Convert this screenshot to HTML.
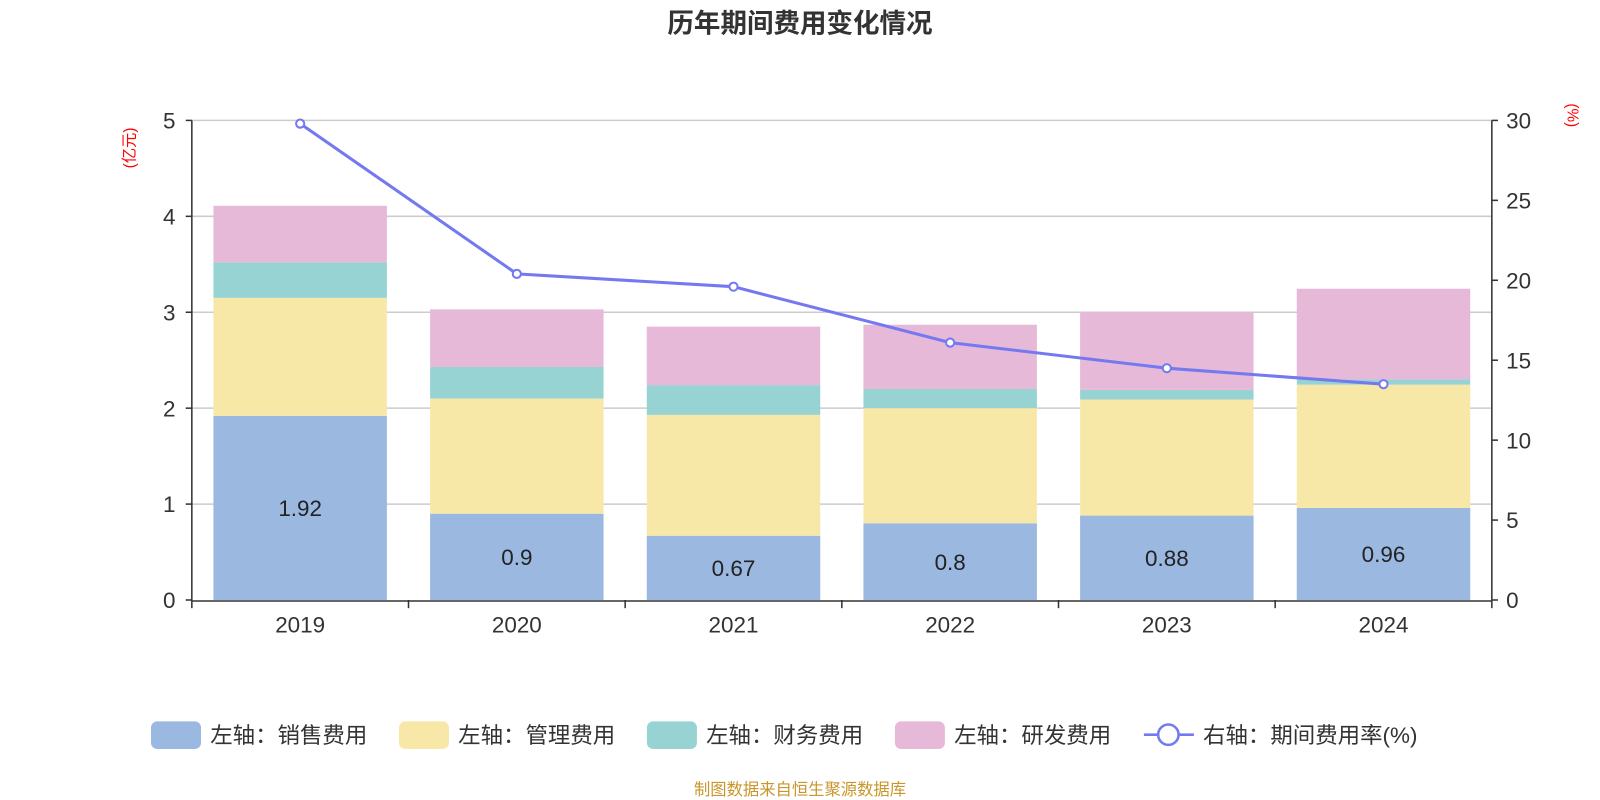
<!DOCTYPE html>
<html><head><meta charset="utf-8"><style>
html,body{margin:0;padding:0;background:#fff;}
svg{display:block;font-family:"Liberation Sans","Noto Sans CJK SC",sans-serif;}
</style></head><body>
<svg id="chart" width="1600" height="800" viewBox="0 0 1568 784" preserveAspectRatio="none" xmlns="http://www.w3.org/2000/svg">
<text x="784" y="32" text-anchor="middle" font-size="26" font-weight="bold" fill="#333">历年期间费用变化情况</text>
<text transform="translate(132,145) rotate(-90)" text-anchor="middle" font-size="15" fill="red">(亿元)</text>
<text transform="translate(1536,113) rotate(90)" text-anchor="middle" font-size="15" fill="red">(%)</text>
<g id="grid"></g><g id="bars"></g><g id="axes"></g><g id="line"></g>
<g id="legend"></g>
<text x="784" y="779" text-anchor="middle" font-size="16" fill="#c8962a">制图数据来自恒生聚源数据库</text>
</svg>
<script>
const categories=["2019","2020","2021","2022","2023","2024"];
const sales=[1.92,0.9,0.67,0.8,0.88,0.96];
const admin=[1.23,1.2,1.26,1.2,1.21,1.285];
const finance=[0.37,0.33,0.31,0.2,0.1,0.055];
const rnd=[0.59,0.6,0.61,0.67,0.81,0.945];
const rate=[29.8,20.4,19.6,16.1,14.5,13.5];
const leftTicks=[0,1,2,3,4,5];
const rightTicks=[0,5,10,15,20,25,30];
const NS="http://www.w3.org/2000/svg";
const X0=188,X1=1462,Y0=588,Y1=118;
const band=(X1-X0)/categories.length;
const yL=v=>Y0-(v/5)*(Y0-Y1);
const yR=v=>Y0-(v/30)*(Y0-Y1);
const xC=i=>X0+band*(i+0.5);
function mk(tag,attrs,parent,text){const e=document.createElementNS(NS,tag);for(const k in attrs)e.setAttribute(k,attrs[k]);if(text!==undefined)e.textContent=text;document.getElementById(parent)?document.getElementById(parent).appendChild(e):parent.appendChild(e);return e;}
leftTicks.forEach((t,i)=>{
  if(t>0){const g=mk('line',{x1:X0,x2:X1,y1:yL(t),y2:yL(t),stroke:'#ccc','stroke-width':1.5},'grid');
  
  }
  const tx=mk('text',{x:172,y:yL(t)+8,'text-anchor':'end','font-size':22,fill:'#333'},'axes',t);
  
  
  mk('line',{x1:X0-6,x2:X0,y1:yL(t),y2:yL(t),stroke:'#333','stroke-width':1.5},'axes');
});
rightTicks.forEach(t=>{
  const tx=mk('text',{x:1476,y:yR(t)+8,'font-size':22,fill:'#333'},'axes',t);
  
  
  mk('line',{x1:X1,x2:X1+6,y1:yR(t),y2:yR(t),stroke:'#333','stroke-width':1.5},'axes');
});
mk('line',{x1:X0,x2:X0,y1:Y1,y2:Y0,stroke:'#333','stroke-width':1.5},'axes');
mk('line',{x1:X1,x2:X1,y1:Y1,y2:Y0,stroke:'#333','stroke-width':1.5},'axes');
mk('line',{x1:X0,x2:X1,y1:Y0+1,y2:Y0+1,stroke:'#333','stroke-width':1.5},'axes');
for(let i=0;i<=categories.length;i++)mk('line',{x1:X0+band*i,x2:X0+band*i,y1:Y0,y2:Y0+8,stroke:'#333','stroke-width':1.5},'axes');
const series=[[sales,'#9bb8e1','sales'],[admin,'#f8e8a8','admin'],[finance,'#97d3d3','finance'],[rnd,'#e6b9d8','rnd']];
categories.forEach((c,i)=>{
  const lb=mk('text',{x:xC(i),y:620,'text-anchor':'middle','font-size':22,fill:'#333'},'axes',c);
  
  
  let base=0;
  series.forEach(([arr,col,nm])=>{
    const r=mk('rect',{x:xC(i)-85,width:170,y:yL(base+arr[i]),height:yL(base)-yL(base+arr[i]),fill:col},'bars');
    
    
    base+=arr[i];
  });
  const v=mk('text',{x:xC(i),y:(yL(0)+yL(sales[i]))/2+8,'text-anchor':'middle','font-size':22,fill:'#222'},'bars',sales[i]);
  
  
});
const pts=rate.map((r,i)=>xC(i)+','+yR(r)).join(' ');
const pl=mk('polyline',{points:pts,fill:'none',stroke:'#7479f0','stroke-width':3},'line');


rate.forEach((r,i)=>{const c=mk('circle',{cx:xC(i),cy:yR(r),r:4,fill:'#fff',stroke:'#7479f0','stroke-width':2},'line');

});
const leg=[['左轴：销售费用','#9bb8e1',148],['左轴：管理费用','#f8e8a8',391],['左轴：财务费用','#97d3d3',634],['左轴：研发费用','#e6b9d8',877]];
leg.forEach(([t,col,x])=>{
  const g=mk('g',{},'legend');
  
  
  mk('rect',{x:x,y:707,width:49,height:27,rx:6,fill:col},g);
  mk('text',{x:x+58,y:728,'font-size':22,fill:'#333'},g,t);
});
const g=mk('g',{},'legend');


mk('line',{x1:1121,x2:1170,y1:720,y2:720,stroke:'#7479f0','stroke-width':2.5},g);
mk('circle',{cx:1145,cy:720,r:10,fill:'#fff',stroke:'#7479f0','stroke-width':2.5},g);
mk('text',{x:1179,y:728,'font-size':22,fill:'#333'},g,'右轴：期间费用率(%)');
</script>
</body></html>
